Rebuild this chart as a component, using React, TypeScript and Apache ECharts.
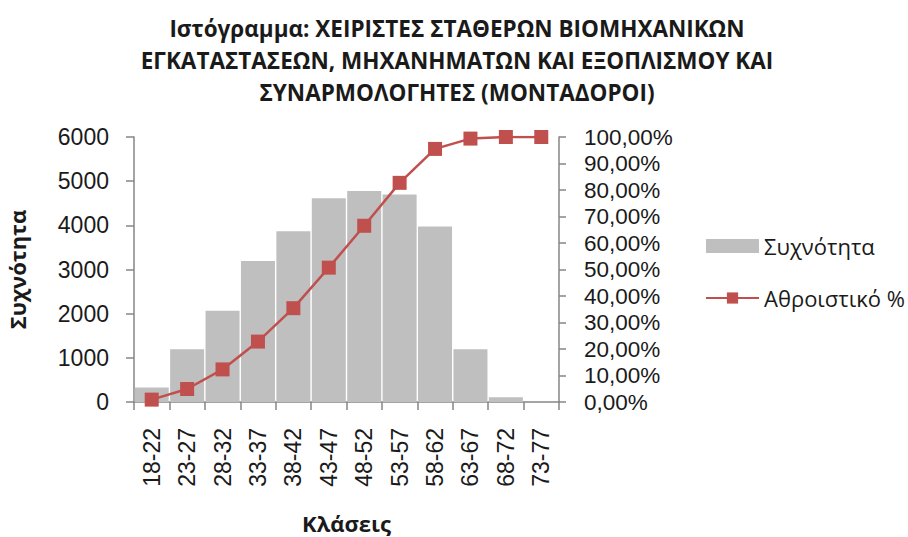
import React, { useEffect, useRef } from "react";
import * as echarts from "echarts";

const categories = ["18-22", "23-27", "28-32", "33-37", "38-42", "43-47", "48-52", "53-57", "58-62", "63-67", "68-72", "73-77"];
const frequency = [330, 1195, 2065, 3195, 3865, 4615, 4780, 4700, 3975, 1195, 105, 0];
const cumulativePct = [0.009, 0.049, 0.123, 0.228, 0.354, 0.507, 0.665, 0.827, 0.955, 0.994, 1.0, 1.0];
const leftTicks = { min: 0, max: 6000, interval: 1000 };
const rightTicks = { min: 0, max: 1, interval: 0.1 };

const titleText = "Ιστόγραμμα: ΧΕΙΡΙΣΤΕΣ ΣΤΑΘΕΡΩΝ ΒΙΟΜΗΧΑΝΙΚΩΝ\nΕΓΚΑΤΑΣΤΑΣΕΩΝ, ΜΗΧΑΝΗΜΑΤΩΝ ΚΑΙ ΕΞΟΠΛΙΣΜΟΥ ΚΑΙ\nΣΥΝΑΡΜΟΛΟΓΗΤΕΣ (ΜΟΝΤΑΔΟΡΟΙ)";

const FONT = "Open Sans";
const TICKFONT = "Liberation Sans";
const TEXT = "#1a1a1a";
const AXIS = "#868686";

export default function App() {
  const ref = useRef<HTMLDivElement>(null);
  useEffect(() => {
    if (!ref.current) return;
    const chart = echarts.init(ref.current, null, { renderer: "svg" });
    chart.setOption({
      animation: false,
      backgroundColor: "#ffffff",
      title: {
        text: titleText,
        left: 452,
        textAlign: "center",
        top: 7,
        textStyle: { fontFamily: FONT, fontSize: 22.5, fontWeight: "bold", color: TEXT, lineHeight: 32 },
      },
      legend: {
        orient: "vertical",
        left: 700,
        top: 230,
        itemGap: 30,
        itemWidth: 53,
        itemHeight: 14,
        textStyle: { fontFamily: FONT, fontSize: 22, color: TEXT },
        data: [
          { name: "Συχνότητα", icon: "rect" },
          { name: "Αθροιστικό %" },
        ],
      },
      grid: { left: 134, right: 349, top: 137, bottom: 135, containLabel: false },
      xAxis: {
        type: "category",
        data: categories,
        boundaryGap: true,
        name: "Κλάσεις",
        nameLocation: "middle",
        nameGap: 110,
        nameTextStyle: { fontFamily: FONT, fontSize: 22, fontWeight: "bold", color: TEXT },
        axisLine: { lineStyle: { color: AXIS, width: 1.5 } },
        axisTick: { show: true, alignWithLabel: false, length: 8, lineStyle: { color: AXIS, width: 1.5 } },
        axisLabel: { rotate: 90, margin: 26, fontFamily: TICKFONT, fontSize: 23, color: TEXT },
      },
      yAxis: [
        {
          type: "value",
          min: leftTicks.min,
          max: leftTicks.max,
          interval: leftTicks.interval,
          name: "Συχνότητα",
          nameLocation: "middle",
          nameGap: 106,
          nameTextStyle: { fontFamily: FONT, fontSize: 22, fontWeight: "bold", color: TEXT },
          axisLine: { show: true, lineStyle: { color: AXIS, width: 1.5 } },
          axisTick: { show: true, length: 8, lineStyle: { color: AXIS, width: 1.5 } },
          axisLabel: {
            margin: 25,
            fontFamily: TICKFONT,
            fontSize: 23,
            color: TEXT,
            formatter: (v: number) => String(v),
          },
          splitLine: { show: false },
        },
        {
          type: "value",
          position: "right",
          min: rightTicks.min,
          max: rightTicks.max,
          interval: rightTicks.interval,
          axisLine: { show: true, lineStyle: { color: AXIS, width: 1.5 } },
          axisTick: { show: true, length: 7, lineStyle: { color: AXIS, width: 1.5 } },
          axisLabel: {
            margin: 25,
            fontFamily: TICKFONT,
            fontSize: 22.5,
            color: TEXT,
            formatter: (v: number) => (v * 100).toFixed(2).replace(".", ",") + "%",
          },
          splitLine: { show: false },
        },
      ],
      series: [
        {
          name: "Συχνότητα",
          type: "bar",
          data: frequency,
          barCategoryGap: "4%",
          itemStyle: { color: "#BFBFBF" },
        },
        {
          name: "Αθροιστικό %",
          type: "line",
          yAxisIndex: 1,
          data: cumulativePct,
          symbol: "rect",
          symbolSize: 14,
          lineStyle: { color: "#C0504D", width: 2.5 },
          itemStyle: { color: "#C0504D" },
        },
      ],
    });
    return () => chart.dispose();
  }, []);
  return <div ref={ref} style={{ width: 908, height: 537, position: "absolute", left: 0, top: 0 }} />;
}
